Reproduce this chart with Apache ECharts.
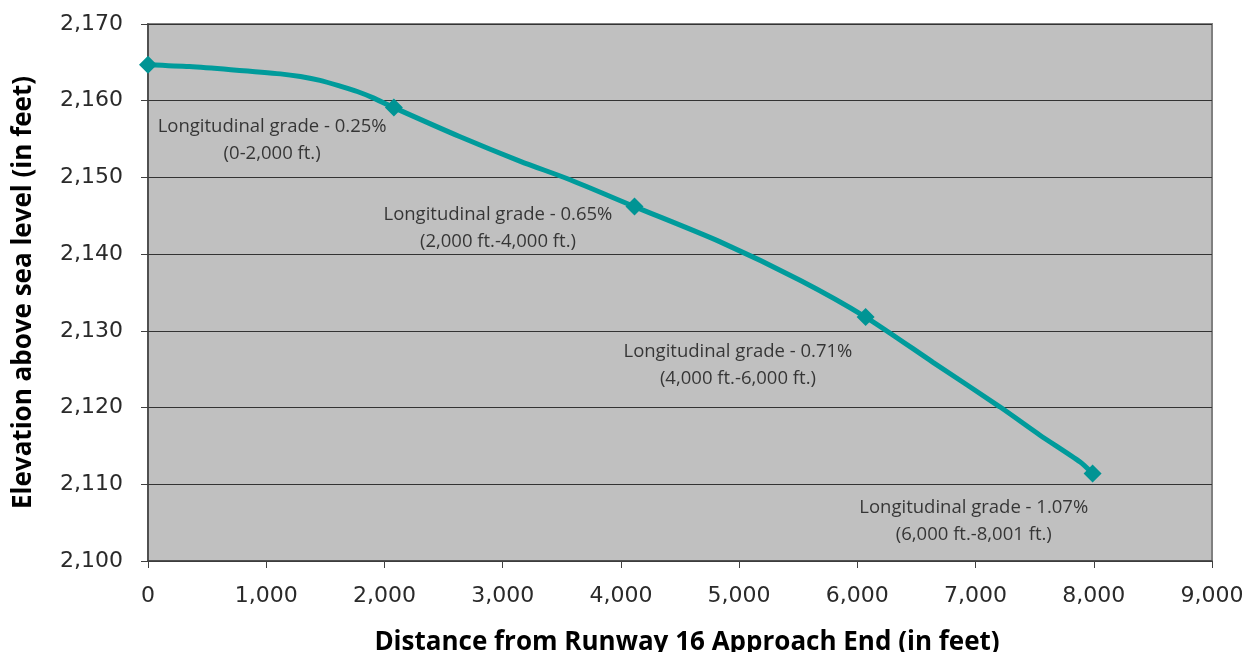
<!DOCTYPE html>
<html>
<head>
<meta charset="utf-8">
<script src="https://cdn.jsdelivr.net/npm/echarts@6/dist/echarts.min.js"></script>
<style>
html,body{margin:0;padding:0;background:#fff;}
#chart{width:1249px;height:652px;}
</style>
</head>
<body>
<div id="chart"></div>
<script>
// Profile along the runway (distance ft, elevation ft)
const profileDistance = [0, 350, 700, 1120, 1290, 1455, 1625, 1770, 1900, 2080, 2640, 3150, 3570, 4115, 4840, 5515, 6070, 6640, 7205, 7545, 7885, 7990];
const profileElevation = [2164.7, 2164.45, 2164.05, 2163.5, 2163.15, 2162.65, 2161.9, 2161.2, 2160.4, 2159.1, 2155.3, 2152.1, 2149.7, 2146.2, 2141.6, 2136.6, 2131.8, 2125.9, 2120.1, 2116.4, 2112.9, 2111.4];
// Marked stations
const markerDistance = [0, 2080, 4115, 6070, 7990];
const markerElevation = [2164.7, 2159.1, 2146.2, 2131.8, 2111.4];
// Grade annotations
const noteText = [
  'Longitudinal grade - 0.25%\n(0-2,000 ft.)',
  'Longitudinal grade - 0.65%\n(2,000 ft.-4,000 ft.)',
  'Longitudinal grade - 0.71%\n(4,000 ft.-6,000 ft.)',
  'Longitudinal grade - 1.07%\n(6,000 ft.-8,001 ft.)'
];
const noteDistance = [1050, 2960, 4990, 6985];
const noteElevation = [2154.9, 2143.4, 2125.5, 2105.2];

const FONT = '"Open Sans", "Noto Sans", sans-serif';
const TICKFONT = '"DejaVu Sans ExtraLight", "DejaVu Sans", sans-serif';
const fmt = v => v.toLocaleString('en-US');

const chart = echarts.init(document.getElementById('chart'));
chart.setOption({
  animation: false,
  backgroundColor: '#ffffff',
  grid: {left: 148, right: 37, top: 24, bottom: 91, outerBoundsMode: 'none', containLabel: false,
         show: true, backgroundColor: '#c0c0c0', borderColor: '#808080', borderWidth: 2},
  xAxis: {
    type: 'value', min: 0, max: 9000, interval: 1000,
    name: 'Distance from Runway 16 Approach End (in feet)',
    nameLocation: 'middle', nameGap: 69,
    nameTextStyle: {fontFamily: FONT, fontSize: 26, fontWeight: 'bold', color: '#000', padding: [0, 0, 0, 14]},
    axisLine: {show: true, onZero: false, lineStyle: {color: '#404040', width: 1.5}},
    axisTick: {show: true, length: 7, lineStyle: {color: '#404040'}},
    axisLabel: {fontFamily: TICKFONT, fontSize: 22, color: '#2a2a2a', margin: 24, formatter: fmt},
    splitLine: {show: false}
  },
  yAxis: {
    type: 'value', min: 2100, max: 2170, interval: 10,
    name: 'Elevation above sea level (in feet)',
    nameLocation: 'middle', nameGap: 111, nameRotate: 90,
    nameTextStyle: {fontFamily: FONT, fontSize: 26, fontWeight: 'bold', color: '#000'},
    axisLine: {show: true, lineStyle: {color: '#404040', width: 1.5}},
    axisTick: {show: true, length: 7, lineStyle: {color: '#404040'}},
    axisLabel: {fontFamily: TICKFONT, fontSize: 22, color: '#2a2a2a', margin: 25, formatter: fmt},
    splitLine: {show: true, lineStyle: {color: '#333333', width: 1}}
  },
  series: [
    {
      type: 'line', smooth: 0.25, showSymbol: false, silent: true,
      data: profileDistance.map((d, i) => [d, profileElevation[i]]),
      lineStyle: {color: '#009b9b', width: 5},
      z: 2
    },
    {
      type: 'scatter', symbol: 'diamond', symbolSize: 18,
      data: markerDistance.map((d, i) => [d, markerElevation[i]]),
      itemStyle: {color: '#009494', opacity: 1},
      z: 3
    },
    {
      type: 'scatter', symbolSize: 0, silent: true,
      data: noteDistance.map((d, i) => [d, noteElevation[i], noteText[i]]),
      label: {
        show: true, position: 'inside', align: 'center', verticalAlign: 'middle',
        fontFamily: FONT, fontSize: 18.5, lineHeight: 27, color: '#111',
        formatter: p => p.data[2]
      },
      z: 4
    }
  ]
});
</script>
</body>
</html>
